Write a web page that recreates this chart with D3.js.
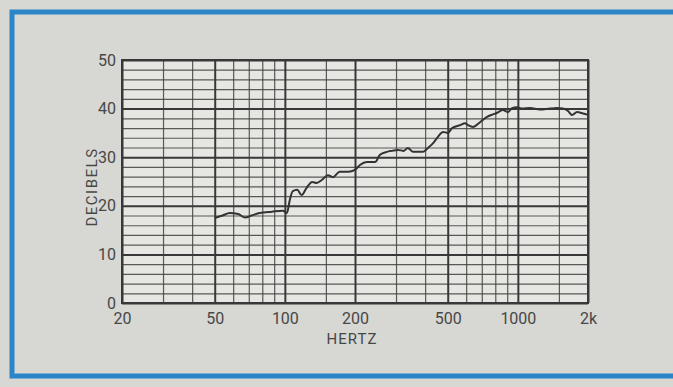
<!DOCTYPE html>
<html><head><meta charset="utf-8">
<script src="https://cdn.jsdelivr.net/npm/d3@7/dist/d3.min.js"></script>
<style>
html,body{margin:0;padding:0;background:#d7d7d3;}
svg{display:block;}
</style></head>
<body>
<svg id="chart" width="673" height="387"></svg>
<script>
// ---- data ----
const freqMajor = [20, 50, 100, 200, 500, 1000, 2000];
const freqMajorLabels = ["20", "50", "100", "200", "500", "1000", "2k"];
const freqMinor = [30, 40, 60, 70, 80, 90, 150, 300, 400, 600, 700, 800, 900, 1500];
const dbMajor = [0, 10, 20, 30, 40, 50];
const dbMinor = [2, 4, 6, 8, 12, 14, 16, 18, 22, 24, 26, 28, 32, 34, 36, 38, 42, 44, 46, 48];
const curveFreq = [50, 54, 58, 63, 67.5, 72, 78, 88, 98, 102, 105, 108, 113, 118, 124, 131, 137, 144, 153, 161, 172, 187, 200, 210, 225, 244, 256, 274, 288, 306, 324, 337, 355, 392, 411, 433, 454, 477, 501, 522, 565, 593, 611, 641, 688, 737, 782, 813, 863, 908, 944, 991, 1042, 1127, 1244, 1374, 1472, 1562, 1642, 1708, 1795, 1905, 2000];
const curveDb = [17.5, 18.0, 18.5, 18.3, 17.6, 18.0, 18.5, 18.8, 19.0, 18.5, 21.2, 23.0, 23.3, 22.2, 23.7, 24.9, 24.7, 25.3, 26.3, 25.9, 27.0, 27.0, 27.4, 28.4, 29.0, 29.0, 30.5, 31.1, 31.3, 31.5, 31.3, 31.9, 31.1, 31.1, 31.9, 32.9, 34.2, 35.2, 35.0, 36.0, 36.6, 37.0, 36.6, 36.2, 37.2, 38.3, 38.8, 39.1, 39.7, 39.3, 40.1, 40.3, 40.0, 40.1, 39.8, 40.0, 40.1, 40.0, 39.5, 38.7, 39.3, 39.0, 38.7];

// ---- layout ----
const svg = d3.select("#chart");
const L = 122, R = 588, T = 60, B = 303;
const x = d3.scaleLog().domain([20, 2000]).range([L, R]);
const y = d3.scaleLinear().domain([0, 50]).range([B, T]);
const ink = "#404040";
const font = "Roboto, 'Liberation Sans', sans-serif";

// page background
svg.append("rect").attr("width", 673).attr("height", 387).attr("fill", "#d7d7d3");
// plot paper
svg.append("rect").attr("x", L).attr("y", T).attr("width", R - L).attr("height", B - T).attr("fill", "#e6e6e2");

// minor grids
const gxMinor = svg.append("g").attr("transform", `translate(0,${B})`)
  .call(d3.axisBottom(x).tickValues(freqMinor).tickSize(-(B - T)).tickFormat(""));
const gyMinor = svg.append("g").attr("transform", `translate(${L},0)`)
  .call(d3.axisLeft(y).tickValues(dbMinor).tickSize(-(R - L)).tickFormat(""));
[gxMinor, gyMinor].forEach(g => {
  g.select(".domain").remove();
  g.selectAll("line").attr("stroke", ink).attr("stroke-width", 1.2).attr("opacity", 0.85);
});

// major grids + labels
const gx = svg.append("g").attr("transform", `translate(0,${B})`)
  .call(d3.axisBottom(x).tickValues(freqMajor).tickSize(-(B - T)).tickPadding(10)
    .tickFormat((d, i) => freqMajorLabels[i]));
const gy = svg.append("g").attr("transform", `translate(${L},0)`)
  .call(d3.axisLeft(y).tickValues(dbMajor).tickSize(-(R - L)).tickPadding(6));
[gx, gy].forEach(g => {
  g.select(".domain").remove();
  g.selectAll("line").attr("stroke", "#383838").attr("stroke-width", 2);
  g.selectAll("text").attr("fill", "#474747").style("font-family", font).style("font-size", "16px");
});

// frame
svg.append("rect").attr("x", L).attr("y", T).attr("width", R - L).attr("height", B - T)
  .attr("fill", "none").attr("stroke", "#383838").attr("stroke-width", 2);

// curve
const pts = curveFreq.map((f, i) => [f, curveDb[i]]);
svg.append("path").datum(pts)
  .attr("d", d3.line().x(d => x(d[0])).y(d => y(d[1])).curve(d3.curveMonotoneX))
  .attr("fill", "none").attr("stroke", "#333").attr("stroke-width", 2).attr("stroke-linejoin", "round");

// axis titles
svg.append("text").attr("x", 352).attr("y", 344).attr("text-anchor", "middle")
  .attr("fill", "#474747").style("font-family", font).style("font-size", "15px").style("letter-spacing", "1px")
  .text("HERTZ");
svg.append("text").attr("transform", "translate(97,187) rotate(-90)").attr("text-anchor", "middle")
  .attr("fill", "#474747").style("font-family", font).style("font-size", "15px").style("letter-spacing", "1.5px")
  .text("DECIBELS");

// blue border
svg.append("path").attr("d", "M673,12 L12,12 L12,376 L673,376")
  .attr("fill", "none").attr("stroke", "#2a86c8").attr("stroke-width", 5);
</script>
</body></html>
